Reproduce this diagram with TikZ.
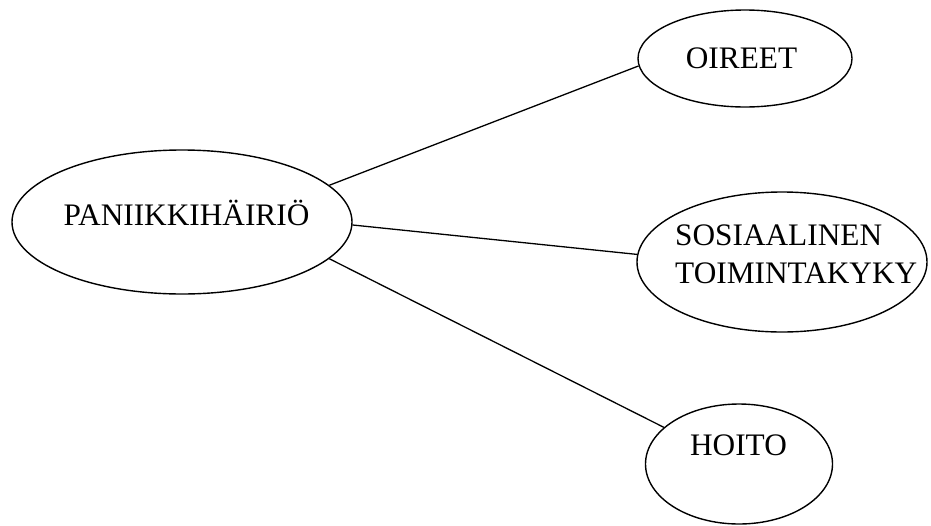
\documentclass[tikz,border=0pt]{standalone}
\usepackage{fontspec}
\setmainfont{Liberation Serif}
\usetikzlibrary{shapes.geometric}

\begin{document}
\begin{tikzpicture}[x=1pt,y=-1pt]
\tikzstyle{every node}+=[inner sep=0pt]
\tikzstyle{bubble}=[draw=black, line width=1.4pt, ellipse]
\tikzstyle{word}=[font=\fontsize{31.3}{38}\selectfont, align=left]
\useasboundingbox (0,0) rectangle (931,525);
\node [bubble, minimum width=340pt, minimum height=144pt] (panic) at (182,222) {};
\node [word, anchor=base] (panictxt) at (186.5,225) {PANIIKKIHÄIRIÖ};
\node [bubble, minimum width=214pt, minimum height=97pt] (oireet) at (745,58.5) {};
\node [word, anchor=base] (oireettxt) at (741.5,68) {OIREET};
\node [bubble, minimum width=290pt, minimum height=140pt] (sos) at (782,262) {};
\node [word, anchor=base west] (sostxt) at (675,283) {SOSIAALINEN\\TOIMINTAKYKY};
\node [bubble, minimum width=187pt, minimum height=120pt] (hoito) at (739,464) {};
\node [word, anchor=base] (hoitotxt) at (738.5,455) {HOITO};
\draw [black, line width=1.3pt] (panic.14.6) -- (oireet.184.5);
\draw [black, line width=1.3pt] (panic.-1) -- (sos.177);
\draw [black, line width=1.3pt] (panic.-14) -- (hoito.154.7);
\end{tikzpicture}
\end{document}
